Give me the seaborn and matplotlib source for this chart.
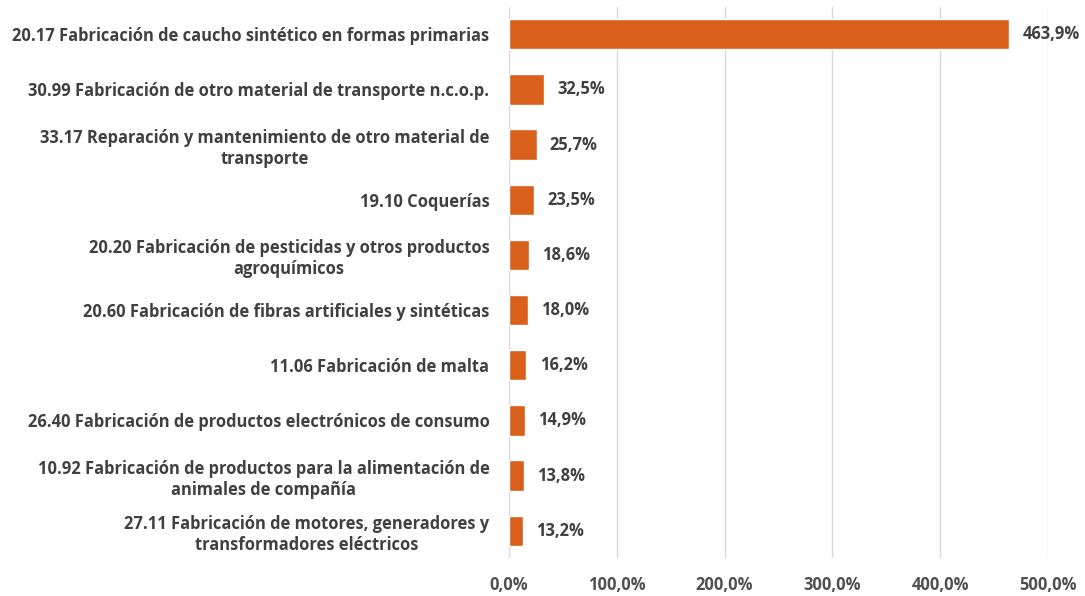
import matplotlib
matplotlib.use("Agg")
import matplotlib.pyplot as plt
import seaborn as sns
import pandas as pd
from matplotlib.ticker import FuncFormatter

# Datos del gráfico
actividades = [
    "20.17 Fabricación de caucho sintético en formas primarias",
    "30.99 Fabricación de otro material de transporte n.c.o.p.",
    "33.17 Reparación y mantenimiento de otro material de\ntransporte",
    "19.10 Coquerías",
    "20.20 Fabricación de pesticidas y otros productos\nagroquímicos",
    "20.60 Fabricación de fibras artificiales y sintéticas",
    "11.06 Fabricación de malta",
    "26.40 Fabricación de productos electrónicos de consumo",
    "10.92 Fabricación de productos para la alimentación de\nanimales de compañía",
    "27.11 Fabricación de motores, generadores y\ntransformadores eléctricos",
]
variacion = [463.9, 32.5, 25.7, 23.5, 18.6, 18.0, 16.2, 14.9, 13.8, 13.2]
xticks = [0, 100, 200, 300, 400, 500]

BAR_COLOR = "#D9601A"
TEXT_COLOR = "#404040"
TICK_COLOR = "#505050"
FS = 11.9

df = pd.DataFrame({"actividad": actividades, "variacion": variacion})

sns.set_theme(style="white")
plt.rcParams["font.family"] = ["Open Sans", "DejaVu Sans"]
plt.rcParams["font.weight"] = "bold"

fig = plt.figure(figsize=(10.85, 5.96), dpi=100)
ax = fig.add_axes([0.469, 0.063, 0.497, 0.926])

sns.barplot(data=df, x="variacion", y="actividad", color=BAR_COLOR,
            width=0.55, saturation=1, ax=ax, zorder=3)

ax.set_xlim(0, 500)
ax.set_ylim(9.5, -0.5)
ax.set_xticks(xticks)
ax.xaxis.set_major_formatter(FuncFormatter(lambda v, p: f"{v:.1f}%".replace(".", ",")))
ax.grid(axis="x", color="#D9D9D9", linewidth=1, zorder=0)
ax.grid(axis="y", visible=False)
for s in ax.spines.values():
    s.set_visible(False)

ax.set_xlabel("")
ax.set_ylabel("")
ax.tick_params(axis="x", length=0, pad=12.5, labelsize=FS, labelcolor=TICK_COLOR)
ax.tick_params(axis="y", length=0, pad=14, labelsize=FS, labelcolor=TEXT_COLOR)
for lbl in ax.get_yticklabels():
    lbl.set_multialignment("center")
    lbl.set_linespacing(1.25)
    lbl.set_fontweight("bold")
for lbl in ax.get_xticklabels():
    lbl.set_fontweight("bold")

for i, v in enumerate(variacion):
    ax.annotate(f"{v:.1f}%".replace(".", ","), xy=(v, i), xytext=(9.5, 0),
                textcoords="offset points", va="center", ha="left",
                fontsize=FS, fontweight="bold", color=TEXT_COLOR)

fig.savefig("out.png", dpi=100)
